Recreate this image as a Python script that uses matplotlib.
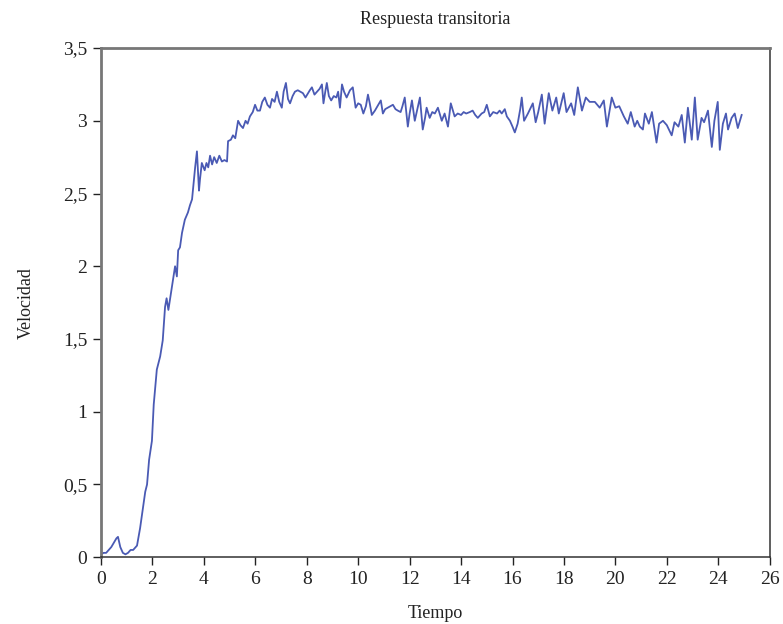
import matplotlib
matplotlib.use("Agg")
import matplotlib.pyplot as plt
from matplotlib.ticker import FuncFormatter

# Respuesta transitoria
tiempo = [
    0.0, 0.1, 0.2, 0.3, 0.4, 0.5, 0.6, 0.66, 0.75, 0.85, 0.95, 1.05, 1.15, 1.25, 1.4,
    1.52, 1.63, 1.72, 1.79, 1.87, 1.98, 2.05, 2.17, 2.3, 2.4, 2.49, 2.55, 2.62, 2.76,
    2.82, 2.88, 2.95, 3.0, 3.07, 3.15, 3.26, 3.38, 3.46, 3.54, 3.6, 3.66, 3.73, 3.81,
    3.85, 3.92, 4.03, 4.1,
    4.17, 4.24, 4.32, 4.4, 4.5, 4.6, 4.7, 4.8, 4.9, 4.94, 5.05, 5.13, 5.22, 5.33, 5.42,
    5.52, 5.62, 5.7, 5.79, 5.9, 5.99, 6.08, 6.18, 6.27, 6.37, 6.47, 6.57, 6.65, 6.75,
    6.84, 6.93, 7.03, 7.1, 7.19, 7.27, 7.35, 7.45, 7.54, 7.65, 7.75, 7.85, 7.95, 8.05,
    8.12, 8.2, 8.3, 8.4, 8.5, 8.59, 8.65, 8.72, 8.78, 8.86, 8.95, 9.05, 9.15, 9.22,
    9.29, 9.37, 9.45, 9.55, 9.68, 9.79, 9.9, 10.0, 10.1, 10.2, 10.3, 10.38, 10.45,
    10.53, 10.65, 10.75, 10.88, 10.96, 11.05, 11.15, 11.25, 11.35, 11.45, 11.54, 11.65,
    11.72, 11.81, 11.93, 12.0, 12.09, 12.2, 12.3, 12.4, 12.51, 12.6, 12.66, 12.78,
    12.88, 12.98, 13.1, 13.25, 13.36, 13.49, 13.6, 13.7, 13.75, 13.87, 14.0, 14.1,
    14.2, 14.34, 14.45, 14.55, 14.65, 14.8, 14.9, 15.0, 15.12, 15.25, 15.4, 15.5,
    15.58, 15.7, 15.78, 15.9, 16.0, 16.09, 16.2, 16.3, 16.36, 16.45, 16.6, 16.79,
    16.9, 17.0, 17.14, 17.25, 17.41, 17.55, 17.7, 17.8, 17.99, 18.1, 18.28, 18.4,
    18.54, 18.7, 18.85, 19.0, 19.2, 19.39, 19.55, 19.67, 19.86, 20.0, 20.15, 20.33,
    20.48, 20.6, 20.75, 20.85, 20.95, 21.07, 21.15, 21.3, 21.42, 21.6, 21.7, 21.85,
    22.0, 22.19, 22.3, 22.45, 22.58, 22.7, 22.82, 22.97, 23.09, 23.2, 23.35, 23.45,
    23.6, 23.75, 23.85, 23.98, 24.06, 24.18, 24.3, 24.38, 24.52, 24.64, 24.76, 24.91,
]
velocidad = [
    0.02, 0.03, 0.03, 0.05, 0.07, 0.10, 0.13, 0.14, 0.07, 0.03, 0.02, 0.03, 0.05, 0.05, 0.08,
    0.20, 0.34, 0.45, 0.50, 0.67, 0.80, 1.05, 1.29, 1.38, 1.49, 1.72, 1.78, 1.70, 1.86,
    1.93, 2.00, 1.93, 2.11, 2.13, 2.23, 2.32, 2.37, 2.42, 2.46, 2.57, 2.68, 2.79, 2.52,
    2.60, 2.71, 2.66, 2.71,
    2.68, 2.76, 2.70, 2.75, 2.71, 2.76, 2.72, 2.73, 2.72, 2.86, 2.87, 2.90, 2.88, 3.00, 2.97,
    2.95, 3.00, 2.98, 3.03, 3.06, 3.11, 3.07, 3.07, 3.13, 3.16, 3.11, 3.09, 3.15, 3.13,
    3.20, 3.13, 3.09, 3.20, 3.26, 3.15, 3.12, 3.17, 3.20, 3.21, 3.20, 3.19, 3.16, 3.19,
    3.21, 3.23, 3.18, 3.20, 3.22, 3.25, 3.12, 3.20, 3.26, 3.17, 3.14, 3.17, 3.16, 3.20,
    3.09, 3.25, 3.20, 3.16, 3.21, 3.23, 3.09, 3.12, 3.11, 3.05, 3.10, 3.18, 3.12,
    3.04, 3.07, 3.10, 3.14, 3.05, 3.08, 3.09, 3.10, 3.11, 3.08, 3.07, 3.06,
    3.10, 3.16, 2.96, 3.05, 3.14, 3.00, 3.08, 3.16, 2.94, 3.02, 3.09, 3.02,
    3.06, 3.05, 3.09, 3.00, 3.05, 2.96, 3.12, 3.06, 3.03, 3.05, 3.04, 3.06,
    3.05, 3.06, 3.07, 3.04, 3.02, 3.05, 3.06, 3.11, 3.03, 3.06, 3.05, 3.07,
    3.05, 3.08, 3.03, 3.00, 2.96, 2.92, 2.98, 3.08, 3.16, 3.00, 3.05, 3.12,
    2.99, 3.06, 3.18, 2.98, 3.19, 3.07, 3.16, 3.05, 3.19, 3.06, 3.12, 3.04,
    3.23, 3.07, 3.16, 3.13, 3.13, 3.09, 3.14, 2.96, 3.16, 3.09, 3.10, 3.03,
    2.98, 3.06, 2.96, 3.00, 2.96, 2.94, 3.05, 2.98, 3.06, 2.85, 2.98, 3.00,
    2.97, 2.90, 2.99, 2.96, 3.04, 2.85, 3.09, 2.87, 3.16, 2.87, 3.02, 2.99,
    3.07, 2.82, 3.00, 3.13, 2.80, 2.98, 3.05, 2.94, 3.02, 3.05, 2.95, 3.04,
]
x_ticks = list(range(0, 27, 2))
y_ticks = [0, 0.5, 1, 1.5, 2, 2.5, 3, 3.5]

plt.rcParams["font.family"] = ["Liberation Serif", "DejaVu Serif"]

fig = plt.figure(figsize=(7.83, 6.24), dpi=100, facecolor="white")
ax = fig.add_axes([0.129, 0.107, 0.854, 0.816])

ax.plot(tiempo, velocidad, color="#4a5ab4", lw=1.3)

ax.set_xlim(0, 26)
ax.set_ylim(0, 3.5)
ax.set_xticks(x_ticks)
ax.set_yticks(y_ticks)


def _coma(v, pos):
    s = f"{v:g}"
    return s.replace(".", ",")


ax.yaxis.set_major_formatter(FuncFormatter(_coma))
ax.tick_params(direction="out", length=6, width=1, labelsize=14, pad=4, colors="#222222")
for s in ("right", "bottom"):
    ax.spines[s].set_linewidth(1.1)
    ax.spines[s].set_color("#333333")
for s in ("left", "top"):
    ax.spines[s].set_linewidth(2)
    ax.spines[s].set_color("#777777")

ax.set_title("Respuesta transitoria", fontsize=13, pad=17, color="#222222")
ax.set_xlabel("Tiempo", fontsize=13, labelpad=12, color="#222222")
ax.set_ylabel("Velocidad", fontsize=13, labelpad=20, color="#222222")

fig.savefig("out.png", dpi=100, facecolor="white")
plt.close(fig)
